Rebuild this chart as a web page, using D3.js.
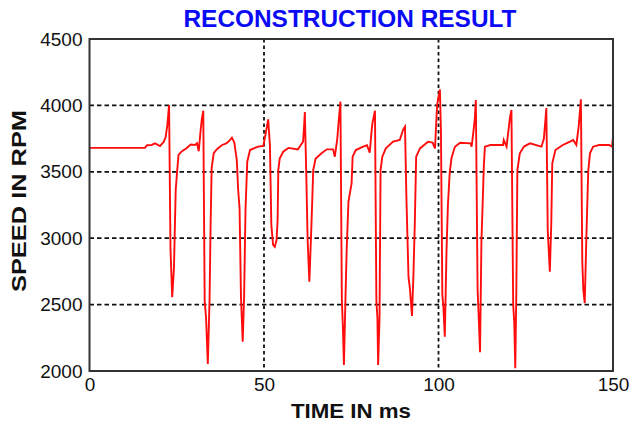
<!DOCTYPE html>
<html>
<head>
<meta charset="utf-8">
<script src="https://cdn.jsdelivr.net/npm/d3@7"></script>
<style>
  html, body { margin: 0; padding: 0; background: #ffffff; }
  svg { display: block; }
</style>
</head>
<body>
<svg id="chart" width="629" height="427"></svg>
<script>
// Axis ticks
const xTicks = [0, 50, 100, 150];
const yTicks = [2000, 2500, 3000, 3500, 4000, 4500];
const xGrid = [50, 100];
const yGrid = [2500, 3000, 3500, 4000];

// Reconstructed rotor speed: [time in ms, speed in rpm]
const speedTrace = [
  [0, 3680], [15.9, 3680], [16.5, 3700], [17.8, 3702], [18.8, 3714], [20.2, 3694],
  [21.3, 3727], [21.8, 3760], [22.3, 3850], [22.8, 4003],
  [23.2, 2925], [23.7, 2555], [24.2, 2776], [24.7, 3363], [25.1, 3500], [25.5, 3627],
  [26.5, 3655], [27.8, 3677], [29.0, 3705], [30.2, 3702], [30.8, 3715], [31.3, 3655],
  [31.8, 3800], [32.2, 3900], [32.6, 3960],
  [33.0, 2527], [33.4, 2400], [33.9, 2053], [34.4, 2535], [34.7, 3100], [35.0, 3529],
  [35.6, 3640], [36.5, 3670], [37.9, 3700], [39.3, 3715], [40.3, 3740], [40.8, 3757],
  [41.5, 3720], [42.2, 3589], [42.6, 3363],
  [43.0, 3225], [43.4, 2560], [43.9, 2220], [44.3, 2560], [44.7, 3212], [45.2, 3576],
  [46.0, 3664], [47.4, 3680], [48.3, 3690], [49.8, 3695], [50.5, 3789], [51.2, 3895],
  [51.7, 3700], [52.1, 3100], [52.6, 2950], [53.1, 2935], [53.6, 2986], [53.9, 3137],
  [54.1, 3513], [54.5, 3600], [55.5, 3651], [57.0, 3680], [59.7, 3669], [60.5, 3700],
  [61.2, 3727], [61.5, 3850], [61.7, 3950],
  [62.1, 3500], [62.5, 2986], [63.0, 2672], [63.5, 3036], [63.8, 3262], [64.1, 3513],
  [64.8, 3600], [66.5, 3640], [68.0, 3669], [69.8, 3669], [70.3, 3614], [71.0, 3750],
  [71.3, 3850], [71.9, 4028],
  [72.3, 2547], [72.6, 2334], [72.9, 2045], [73.3, 2500], [73.7, 2924], [74.2, 3275],
  [75.1, 3413], [75.4, 3614], [76.3, 3664], [78.4, 3689], [79.5, 3700], [80.3, 3644],
  [80.8, 3800], [81.1, 3870], [81.8, 3960],
  [82.2, 2527], [82.5, 2400], [82.7, 2045], [83.1, 2400], [83.4, 3513], [83.9, 3614],
  [84.9, 3676], [87.0, 3727], [88.9, 3740], [89.9, 3820], [90.4, 3840],
  [90.8, 3312], [91.4, 2710], [91.8, 2623], [92.4, 2414], [92.8, 2710], [93.2, 3100],
  [93.6, 3614], [94.7, 3676], [97.0, 3727], [98.3, 3720], [99.0, 3676], [99.6, 4003],
  [100.4, 4121],
  [100.7, 3802], [101.1, 2572], [101.4, 2484], [101.8, 2258], [102.3, 2911], [102.7, 3250],
  [103.2, 3488], [103.7, 3600], [104.7, 3689], [106.2, 3719], [109.2, 3714], [109.5, 3689],
  [110.0, 3800], [110.4, 3900], [110.7, 4041],
  [111.2, 2615], [111.5, 2422], [111.9, 2141], [112.3, 2973], [112.7, 3300], [113.0, 3550],
  [113.3, 3689], [114.9, 3702], [118.5, 3702], [118.7, 3739], [119.5, 3690], [120.5, 3914],
  [120.9, 3965],
  [121.4, 2497], [121.7, 2371], [122.0, 2020], [122.3, 2600], [122.6, 3513], [123.3, 3639],
  [124.5, 3690], [126.2, 3714], [129.5, 3689], [130.2, 3750], [130.6, 3880], [130.9, 3980],
  [131.3, 3062], [131.9, 2748], [132.3, 3100], [132.6, 3564], [133.5, 3664], [135.5, 3700],
  [138.6, 3739], [139.5, 3702], [140.2, 3850], [140.8, 4046],
  [141.2, 2823], [141.5, 2610], [141.9, 2510], [142.4, 3036], [142.9, 3501], [143.4, 3639],
  [144.3, 3689], [146.0, 3702], [148.9, 3702], [149.7, 3689], [150, 3759]
];

const svg = d3.select("#chart");
const plot = { left: 89.5, right: 613, top: 39, bottom: 371 };
const font = "'Liberation Sans', Arial, sans-serif";

const x = d3.scaleLinear().domain([0, 150]).range([plot.left, plot.right]);
const y = d3.scaleLinear().domain([2000, 4500]).range([plot.bottom, plot.top]);

// Dashed grid
svg.append("g").selectAll("line").data(yGrid).join("line")
  .attr("x1", plot.left).attr("x2", plot.right)
  .attr("y1", d => y(d)).attr("y2", d => y(d))
  .attr("stroke", "#111").attr("stroke-width", 1.8)
  .attr("stroke-dasharray", "4.5,3");
svg.append("g").selectAll("line").data(xGrid).join("line")
  .attr("y1", plot.top).attr("y2", plot.bottom)
  .attr("x1", d => x(d)).attr("x2", d => x(d))
  .attr("stroke", "#111").attr("stroke-width", 1.8)
  .attr("stroke-dasharray", "3.5,3");

// Speed trace
const line = d3.line().x(d => x(d[0])).y(d => y(d[1]));
svg.append("path")
  .datum(speedTrace)
  .attr("d", line)
  .attr("fill", "none")
  .attr("stroke", "#ff0d0d")
  .attr("stroke-width", 1.9)
  .attr("stroke-linejoin", "miter");

// Frame
svg.append("rect")
  .attr("x", plot.left).attr("y", plot.top)
  .attr("width", plot.right - plot.left).attr("height", plot.bottom - plot.top)
  .attr("fill", "none").attr("stroke", "#333").attr("stroke-width", 2);

// Axes
const xAxis = svg.append("g")
  .attr("transform", `translate(0,${plot.bottom})`)
  .call(d3.axisBottom(x).tickValues(xTicks).tickSize(0).tickPadding(7).tickFormat(d3.format("d")));
const yAxis = svg.append("g")
  .attr("transform", `translate(${plot.left},0)`)
  .call(d3.axisLeft(y).tickValues(yTicks).tickSize(0).tickPadding(7).tickFormat(d3.format("d")));
[xAxis, yAxis].forEach(g => {
  g.select(".domain").remove();
  g.selectAll("text")
    .attr("font-family", font)
    .attr("font-size", 19)
    .attr("fill", "#111");
});

// Title and axis labels
svg.append("text")
  .attr("x", 350).attr("y", 27)
  .attr("text-anchor", "middle")
  .attr("font-family", font)
  .attr("font-weight", "bold").attr("font-size", 23)
  .attr("textLength", 333).attr("lengthAdjust", "spacingAndGlyphs")
  .attr("fill", "#0a0af5")
  .text("RECONSTRUCTION RESULT");

svg.append("text")
  .attr("x", 351).attr("y", 418)
  .attr("text-anchor", "middle")
  .attr("font-family", font)
  .attr("font-weight", "bold").attr("font-size", 21)
  .attr("textLength", 120).attr("lengthAdjust", "spacingAndGlyphs")
  .attr("fill", "#111")
  .text("TIME IN ms");

svg.append("text")
  .attr("transform", "translate(26,201) rotate(-90)")
  .attr("text-anchor", "middle")
  .attr("font-family", font)
  .attr("font-weight", "bold").attr("font-size", 21)
  .attr("textLength", 182).attr("lengthAdjust", "spacingAndGlyphs")
  .attr("fill", "#111")
  .text("SPEED IN RPM");
</script>
</body>
</html>
